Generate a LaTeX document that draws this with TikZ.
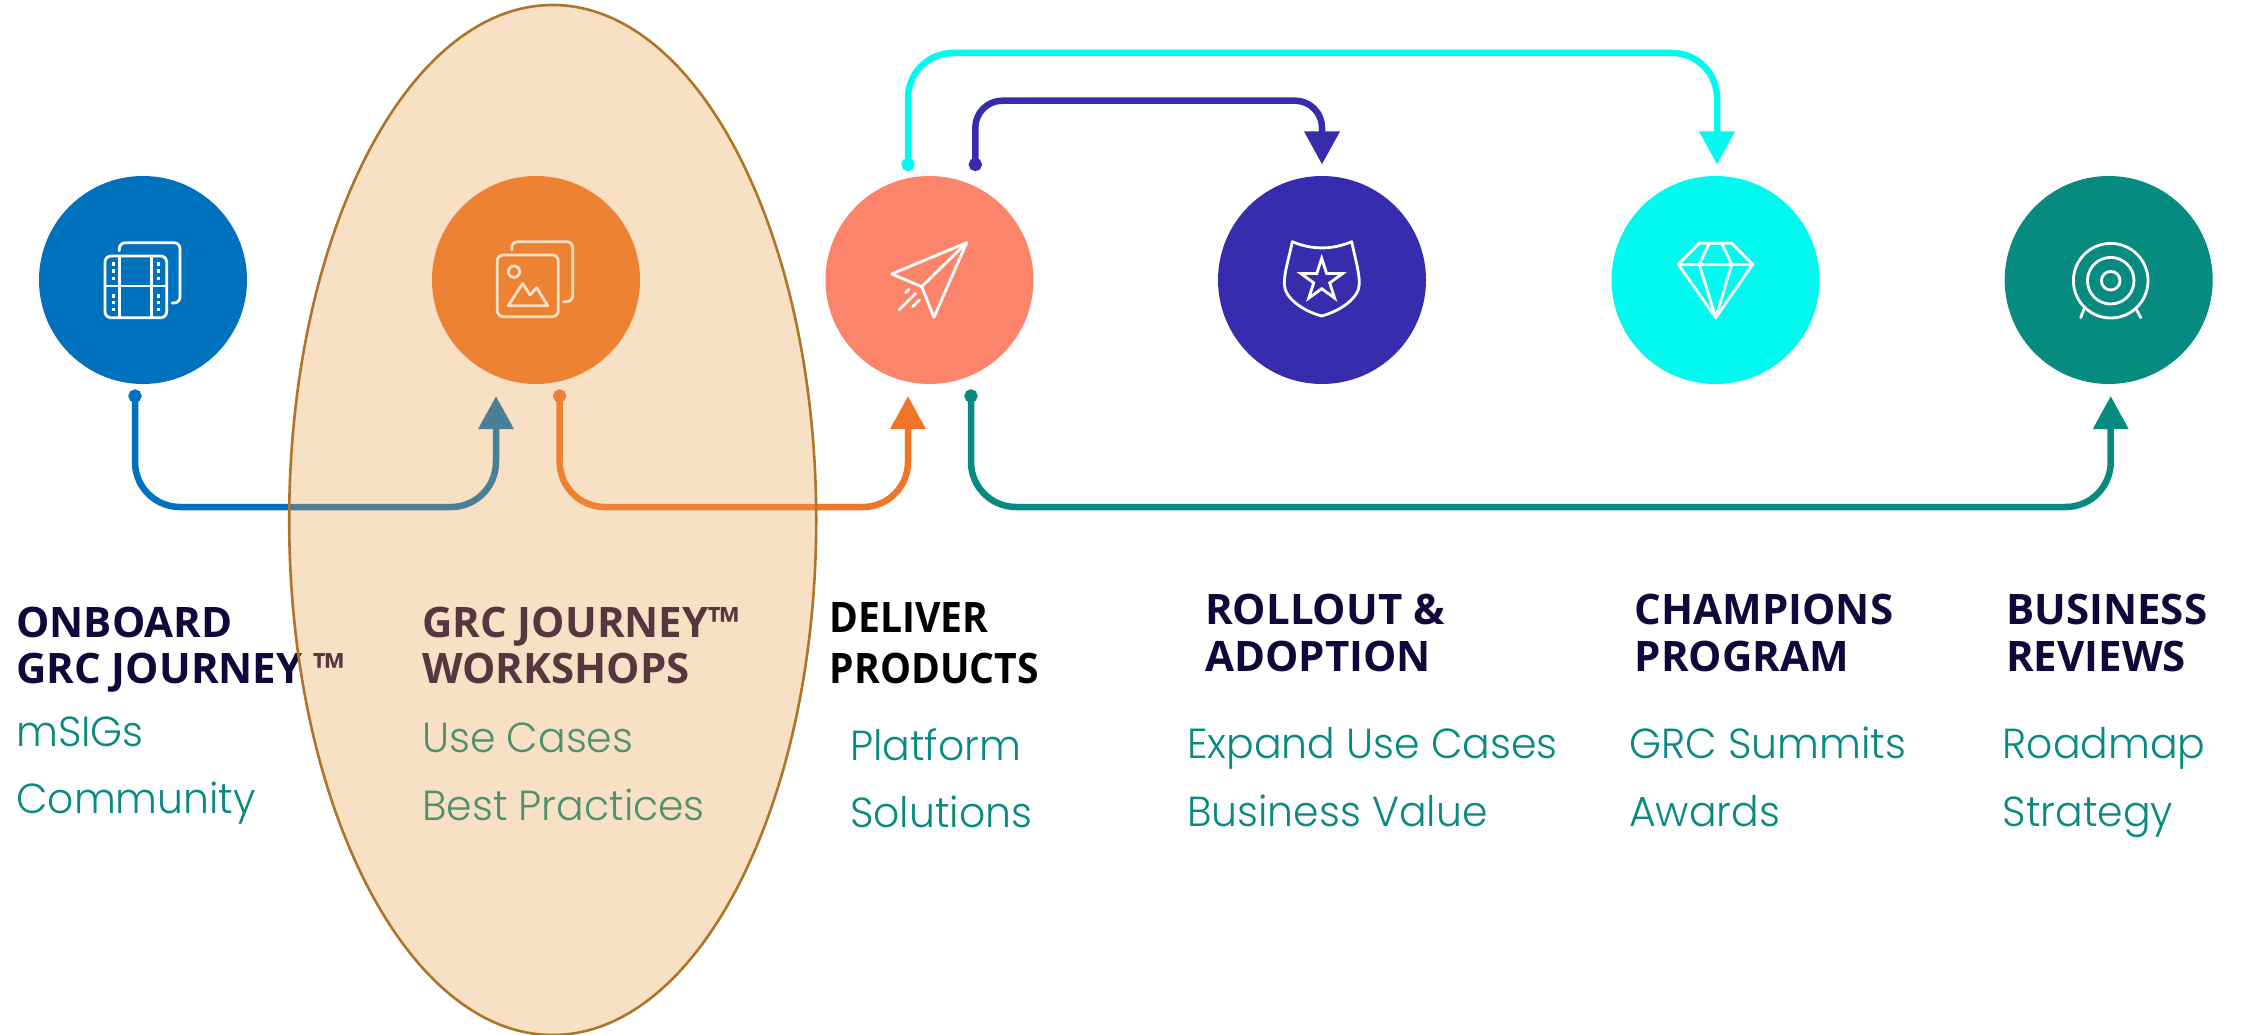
\documentclass[tikz,border=0pt]{standalone}
\usepackage{fontspec}
\usetikzlibrary{arrows.meta}
\newfontfamily\headfont{Open Sans}
\newfontfamily\headnarrow[FakeStretch=0.93]{Open Sans}
\newfontfamily\bodyfont[UprightFont=* Light,FakeStretch=0.975]{Poppins}
\definecolor{cblue}{HTML}{0071BC}
\definecolor{corange}{HTML}{F07528}
\definecolor{csalmon}{HTML}{FB846A}
\definecolor{cindigo}{HTML}{372CAE}
\definecolor{ccyan}{HTML}{00FAF0}
\definecolor{cteal}{HTML}{078A80}
\definecolor{cink}{HTML}{12063A}
\definecolor{covl}{HTML}{E89F49}
\definecolor{covledge}{HTML}{AE7428}
\tikzset{
  disc/.style={circle,minimum size=208pt,inner sep=0pt,draw=none,fill=#1},
  link/.style={draw=#1,line width=6.5pt,rounded corners=45pt,
    {Circle[length=13pt,width=13pt,sep=0pt]}-{Triangle[length=33pt,width=34pt]}},
  linksmall/.style={link=#1,rounded corners=27pt},
  icon/.style={draw=white,line width=2.8pt,line cap=round,line join=round},
  headtxt/.style={anchor=base west,inner sep=0pt,text=cink,font=\headfont\bfseries\fontsize{42}{46}\selectfont},
  headnarrowtxt/.style={anchor=base west,inner sep=0pt,text=black,font=\headnarrow\bfseries\fontsize{42}{46}\selectfont},
  bodytxt/.style={anchor=base west,inner sep=0pt,text=cteal,font=\bodyfont\fontsize{42}{46}\selectfont}
}
\begin{document}
\begin{tikzpicture}[x=1pt,y=-1pt]
\useasboundingbox (0,0) rectangle (2244,1035);
% discs
\node[disc=cblue] (d1) at (143,280) {};
\node[disc=corange] (d2) at (536,280) {};
\node[disc=csalmon] (d3) at (929.5,280) {};
\node[disc=cindigo] (d4) at (1322,280) {};
\node[disc=ccyan] (d5) at (1715.5,280) {};
\node[disc=cteal] (d6) at (2108.7,280) {};
% connector ends and rails
\coordinate (railLow) at (0,507);
\coordinate (railHigh) at (0,53);
\coordinate (railMid) at (0,100.7);
\coordinate (s1) at (135,389.5);
\coordinate (e1) at (496,396);
\coordinate (s2) at (559.7,389.5);
\coordinate (e2) at (908,396);
\coordinate (s3) at (971,389.5);
\coordinate (e3) at (2110.7,396);
\coordinate (s4) at (908,171);
\coordinate (e4) at (1717,164.5);
\coordinate (s5) at (975.3,171);
\coordinate (e5) at (1322,164.5);
\draw[link=cblue] (s1) -- (s1 |- railLow) -- (e1 |- railLow) -- (e1);
\draw[link=corange] (s2) -- (s2 |- railLow) -- (e2 |- railLow) -- (e2);
\draw[link=cteal] (s3) -- (s3 |- railLow) -- (e3 |- railLow) -- (e3);
\draw[link=ccyan] (s4) -- (s4 |- railHigh) -- (e4 |- railHigh) -- (e4);
\draw[linksmall=cindigo] (s5) -- (s5 |- railMid) -- (e5 |- railMid) -- (e5);
% film icon
\draw[icon,rounded corners=6pt] (105,256) rectangle (166.7,317.7);
\draw[icon,rounded corners=6pt] (119.3,250.7) -- (119.3,242.7) -- (180,242.7) -- (180,303) -- (172,303);
\draw[icon] (119.3,256) -- (119.3,317.7) (151.7,256) -- (151.7,317.7) (105,286) -- (166.7,286);
\foreach \yy in {264,271,278.3,296,302.7,309.3}{
  \fill[white] (111.6,\yy-1.7) rectangle (115,\yy+1.7);
  \fill[white] (156.6,\yy-1.7) rectangle (160,\yy+1.7);
}
% image icon
\draw[icon,rounded corners=6pt] (497.3,255) rectangle (558.3,316.7);
\draw[icon,rounded corners=6pt] (511.7,250) -- (511.7,241.7) -- (572.7,241.7) -- (572.7,301.7) -- (563.3,301.7);
\draw[icon] (514,271.7) circle [radius=5.7pt];
\draw[icon] (508.3,305.7) -- (522.7,283.3) -- (530,295) -- (536.7,287.7) -- (547.7,305.7) -- cycle;
% plane icon
\draw[icon] (966.7,242.7) -- (891.7,274) -- (921.7,286.7) -- (934,317.3) -- cycle;
\draw[icon] (921.7,286.7) -- (966.7,242.7);
\draw[icon] (899,310) -- (915.7,293.3) (912.7,306.7) -- (919.3,300) (905.7,292.7) -- (909,289.3);
% shield icon
\draw[icon] (1292.3,241.7) .. controls (1312,250) and (1332,250) .. (1351.7,241.7)
  .. controls (1356,262) and (1359.3,272) .. (1359.3,284)
  .. controls (1359.3,298) and (1340,311) .. (1321.7,316)
  .. controls (1303,311) and (1284.3,298) .. (1284.3,284)
  .. controls (1284.3,272) and (1288,262) .. (1292.3,241.7) -- cycle;
\draw[icon,line join=miter] (1321.7,258.3) -- (1326.6,273.5) -- (1342.6,273.5) -- (1329.7,282.9) -- (1334.6,298.1)
  -- (1321.7,288.7) -- (1308.8,298.1) -- (1313.7,282.9) -- (1300.8,273.5) -- (1316.8,273.5) -- cycle;
% diamond icon
\draw[icon] (1699.3,243.3) -- (1731.7,243.3) -- (1752.7,264.3) -- (1715.7,317.7) -- (1678.3,264.3) -- cycle;
\draw[icon] (1678.3,264.3) -- (1752.7,264.3);
\draw[icon] (1709.3,243.3) -- (1699.3,264.3) -- (1715.7,317.7) -- (1731.7,264.3) -- (1721.7,243.3);
% target icon
\draw[icon] (2110.7,280.7) circle [radius=37.3pt];
\draw[icon] (2110.7,280.7) circle [radius=23.3pt];
\draw[icon] (2110.7,280.7) circle [radius=9.3pt];
\draw[icon] (2084.3,308.3) -- (2080.7,317.7) (2135.7,308.3) -- (2140.7,317.7);
% texts
\node[headtxt] (h1a) at (16,637.5) {ONBOARD};
\node[headtxt] (h1b) at (16,683) {GRC JOURNEY ™};
\node[bodytxt] (b1a) at (16,746.7) {mSIGs};
\node[bodytxt] (b1b) at (16,813) {Community};
\node[headtxt] (h2a) at (422,637.5) {GRC JOURNEY™};
\node[headtxt] (h2b) at (422,683) {WORKSHOPS};
\node[bodytxt] (b2a) at (422,752.7) {Use Cases};
\node[bodytxt] (b2b) at (422,820) {Best Practices};
\node[headnarrowtxt] (h3a) at (829.5,632.5) {DELIVER};
\node[headnarrowtxt] (h3b) at (829.5,683) {PRODUCTS};
\node[bodytxt] (b3a) at (850,760) {Platform};
\node[bodytxt] (b3b) at (850,827.7) {Solutions};
\node[headtxt] (h4a) at (1205,624.5) {ROLLOUT \&};
\node[headtxt] (h4b) at (1205,671) {ADOPTION};
\node[bodytxt] (b4a) at (1187,758.5) {Expand Use Cases};
\node[bodytxt] (b4b) at (1187,826.7) {Business Value};
\node[headtxt] (h5a) at (1634.5,624.5) {CHAMPIONS};
\node[headtxt] (h5b) at (1634.5,671) {PROGRAM};
\node[bodytxt] (b5a) at (1629,758.5) {GRC Summits};
\node[bodytxt] (b5b) at (1629,826.7) {Awards};
\node[headtxt] (h6a) at (2006,624.5) {BUSINESS};
\node[headtxt] (h6b) at (2006,671) {REVIEWS};
\node[bodytxt] (b6a) at (2002.5,758.5) {Roadmap};
\node[bodytxt] (b6b) at (2002.5,826.7) {Strategy};
% translucent highlight over everything
\path[fill=covl,fill opacity=.32,draw=covledge,draw opacity=1,line width=2.6pt]
  (552.7,520) ellipse [x radius=263.5pt,y radius=515pt];
\end{tikzpicture}
\end{document}
